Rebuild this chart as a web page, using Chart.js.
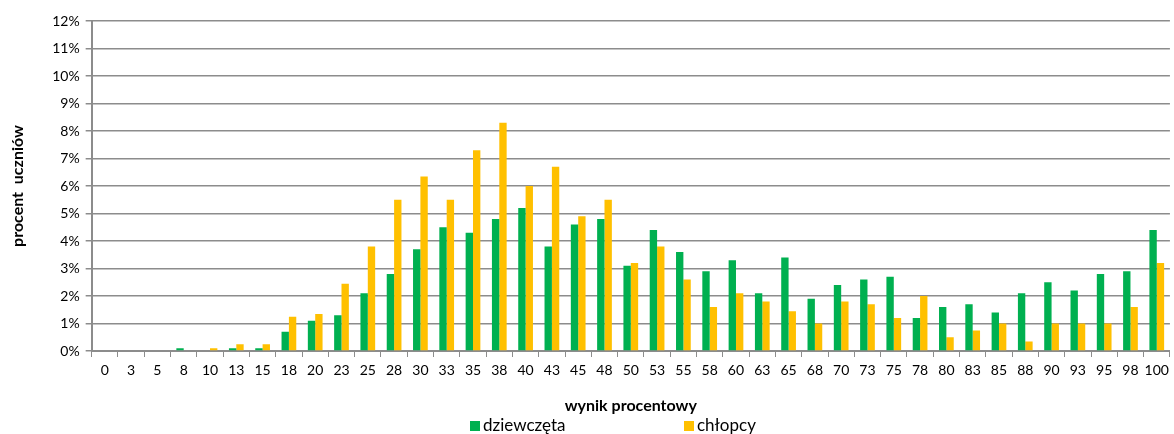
<!DOCTYPE html>
<html>
<head>
<meta charset="utf-8">
<script src="https://cdn.jsdelivr.net/npm/chart.js@4"></script>
<style>
  html, body { margin: 0; padding: 0; background: #fff; }
  #wrap { position: relative; width: 1174px; height: 434px; }
  #legend { position: absolute; left: 0; top: 415px; width: 1174px; height: 19px;
    font-family: Lato, "Open Sans", sans-serif; font-size: 17px; line-height: 19px; color: #000; }
  .item { position: absolute; top: 0; white-space: nowrap; }
  .box { display: inline-block; width: 10px; height: 10px; margin-right: 3px; vertical-align: 0px; }
</style>
</head>
<body>
<div id="wrap">
  <canvas id="chart" width="1174" height="434"></canvas>
  <div id="legend"></div>
</div>
<script>
// Categories (wynik procentowy)
const categories = ['0','3','5','8','10','13','15','18','20','23','25','28','30','33','35','38','40','43','45','48',
  '50','53','55','58','60','63','65','68','70','73','75','78','80','83','85','88','90','93','95','98','100'];

// Percent of students
const girls = [0, 0, 0, 0.1, 0, 0.1, 0.1, 0.7, 1.1, 1.3, 2.1, 2.8, 3.7, 4.5, 4.3, 4.8, 5.2, 3.8, 4.6, 4.8,
  3.1, 4.4, 3.6, 2.9, 3.3, 2.1, 3.4, 1.9, 2.4, 2.6, 2.7, 1.2, 1.6, 1.7, 1.4, 2.1, 2.5, 2.2, 2.8, 2.9, 4.4];
const boys = [0, 0, 0, 0, 0.1, 0.25, 0.25, 1.25, 1.35, 2.45, 3.8, 5.5, 6.35, 5.5, 7.3, 8.3, 6.0, 6.7, 4.9, 5.5,
  3.2, 3.8, 2.6, 1.6, 2.1, 1.8, 1.45, 1.0, 1.8, 1.7, 1.2, 2.0, 0.5, 0.75, 1.0, 0.35, 1.0, 1.0, 1.0, 1.6, 3.2];

const seriesNames = ['dziewczęta', 'chłopcy'];
const seriesColors = ['#00B050', '#FFC000'];

const font = 'Lato, "Open Sans", sans-serif';
const gridColor = '#8c8c8c';

const ctx = document.getElementById('chart').getContext('2d');
const chart = new Chart(ctx, {
  type: 'bar',
  data: {
    labels: categories,
    datasets: [
      { label: seriesNames[0], data: girls, backgroundColor: seriesColors[0] },
      { label: seriesNames[1], data: boys, backgroundColor: seriesColors[1] }
    ]
  },
  options: {
    responsive: false,
    animation: false,
    layout: { padding: { left: 8, right: 4, top: 21, bottom: 19 } },
    datasets: { bar: { categoryPercentage: 0.56, barPercentage: 1 } },
    plugins: { legend: { display: false }, tooltip: { enabled: false } },
    scales: {
      x: {
        grid: { display: true, drawOnChartArea: false, color: gridColor, tickLength: 6, offset: true },
        border: { color: gridColor, width: 2 },
        ticks: { color: '#000', font: { family: font, size: 14 }, maxRotation: 0, autoSkip: false, padding: 5 },
        title: { display: true, text: 'wynik procentowy', color: '#000',
          font: { family: font, size: 16, weight: 'bold' }, padding: { top: 12, bottom: 0 } }
      },
      y: {
        min: 0, max: 12,
        grid: { color: gridColor, lineWidth: 1.5, tickLength: 6 },
        border: { color: gridColor, width: 2 },
        ticks: { stepSize: 1, color: '#000', font: { family: font, size: 14 }, padding: 6,
          callback: v => v + '%' },
        title: { display: true, text: 'procent  uczniów', color: '#000',
          font: { family: font, size: 16, weight: 'bold' }, padding: { top: 0, bottom: 19 } }
      }
    }
  }
});

// HTML legend at the bottom
const legendPos = [470, 684];
const legend = document.getElementById('legend');
seriesNames.forEach((name, i) => {
  const el = document.createElement('span');
  el.className = 'item';
  el.style.left = legendPos[i] + 'px';
  el.innerHTML = '<span class="box" style="background:' + seriesColors[i] + '"></span>' + name;
  legend.appendChild(el);
});
</script>
</body>
</html>
